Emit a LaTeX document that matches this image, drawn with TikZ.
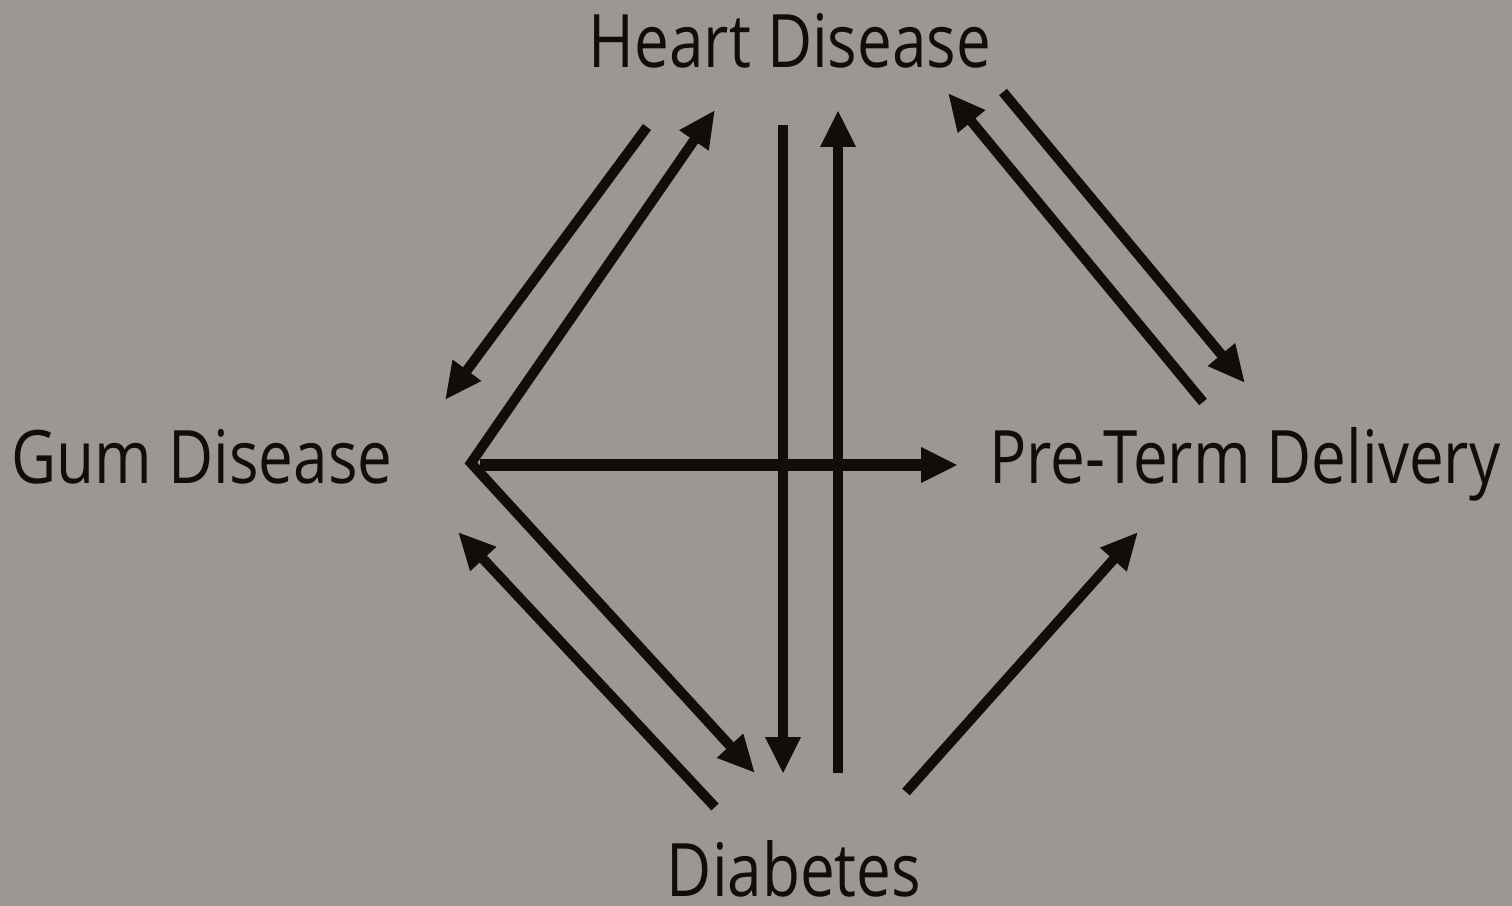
\documentclass[tikz,border=0pt]{standalone}
\usepackage{fontspec}
\setmainfont[FakeStretch=0.84]{Open Sans}
\usetikzlibrary{arrows.meta}
\definecolor{bgc}{HTML}{9A9794}
\definecolor{ink}{HTML}{110D0B}
\tikzset{
  lbl/.style={font=\fontsize{42}{46}\selectfont, text=ink, inner sep=0pt, anchor=base},
  conn/.style={draw=ink, line width=0.2cm, line join=miter,
    -{Triangle[length=0.74cm,width=0.66cm]}},
  conn2/.style={draw=ink, line width=0.2cm, line join=miter,
    {Triangle[length=0.74cm,width=0.66cm]}-{Triangle[length=0.74cm,width=0.66cm]}},
}
\begin{document}
\begin{tikzpicture}[x=0.02cm,y=-0.02cm]
\fill[bgc] (0,0) rectangle (1512,906);
\useasboundingbox (0,0) rectangle (1512,906);
% labels
\node[lbl] (hd) at (790,67) {Heart Disease};
\node[lbl] (gd) at (202,483) {Gum Disease};
\node[lbl] (ptd) at (1245,483) {Pre-Term Delivery};
\node[lbl] (db) at (794,896) {Diabetes};
% endpoints
\coordinate (a1s) at (647,127);  \coordinate (a1e) at (445,400);
\coordinate (vtx) at (471,463);
\coordinate (a2e) at (715,110);  \coordinate (a3e) at (755,773);
\coordinate (hzs) at (480,465);  \coordinate (hze) at (958,465);
\coordinate (v1s) at (783,125);  \coordinate (v1e) at (783,774);
\coordinate (v2s) at (838,773);  \coordinate (v2e) at (838,110);
\coordinate (a5s) at (1203,402); \coordinate (a5e) at (948,93);
\coordinate (a6s) at (1003,92);  \coordinate (a6e) at (1245,383);
\coordinate (a7s) at (715,807);  \coordinate (a7e) at (458,532);
\coordinate (a8s) at (906,792);  \coordinate (a8e) at (1138,532);
% connectors
\draw[conn] (a1s) -- (a1e);
\draw[conn2] (a2e) -- (vtx) -- (a3e);
\draw[conn, line width=0.25cm] (hzs) -- (hze);
\draw[conn] (v1s) -- (v1e);
\draw[conn] (v2s) -- (v2e);
\draw[conn] (a5s) -- (a5e);
\draw[conn] (a6s) -- (a6e);
\draw[conn] (a7s) -- (a7e);
\draw[conn] (a8s) -- (a8e);
\end{tikzpicture}
\end{document}
